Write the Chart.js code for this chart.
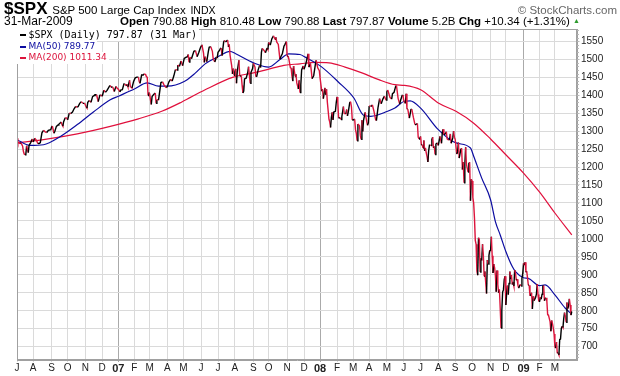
<!DOCTYPE html>
<html>
<head>
<meta charset="utf-8">
<title>$SPX</title>
<script src="https://cdn.jsdelivr.net/npm/chart.js@4.4.1/dist/chart.umd.min.js"></script>
<style>
  body { margin: 0; background: #fff; }
  #wrap { position: relative; width: 620px; height: 376px; overflow: hidden; font-family: Arial, "Liberation Sans", sans-serif; color: #000; }
  #graph { position: absolute; left: 0; top: 0; }
  .txt { position: absolute; white-space: nowrap; }
  #title { left: 4px; top: -1px; font-size: 17px; line-height: 20px; }
  #title .nm { font-size: 11.5px; }
  #title .ex { font-size: 10.5px; }
  #brand { right: 3px; top: 3px; font-size: 11.5px; line-height: 14px; color: #666; }
  #date { left: 4px; top: 14px; font-size: 12px; line-height: 14px; }
  #ohlc { left: 120px; top: 14px; font-size: 11.5px; line-height: 14px; }
  #ohlc .up { color: #2c9a2c; font-size: 7px; vertical-align: 2px; }
  .lg { position: absolute; left: 17px; background: #fff; white-space: nowrap; padding-right: 2px; height: 11.5px; }
  .lg i { position: absolute; left: 3px; top: 5px; width: 6px; height: 2px; }
  .lg span { display: block; padding-left: 11.5px; line-height: 11.5px; }
  #lg1 { top: 29px; font: 10px "DejaVu Sans Mono", monospace; }
  #lg2 { top: 40.5px; font: 9px "DejaVu Sans", sans-serif; color: #0c0ca0; }
  #lg3 { top: 52px; font: 9px "DejaVu Sans", sans-serif; color: #dc143c; }
</style>
</head>
<body>
<div id="wrap">
  <canvas id="graph" width="620" height="376"></canvas>
  <div class="txt" id="title"><b>$SPX</b> <span class="nm">S&amp;P 500 Large Cap Index</span> <span class="ex">INDX</span></div>
  <div class="txt" id="brand">© StockCharts.com</div>
  <div class="txt" id="date">31-Mar-2009</div>
  <div class="txt" id="ohlc"><b>Open</b> 790.88 <b>High</b> 810.48 <b>Low</b> 790.88 <b>Last</b> 797.87 <b>Volume</b> 5.2B <b>Chg</b> +10.34 (+1.31%) <span class="up">▲</span></div>
  <div class="lg" id="lg1"><i style="background:#000"></i><span>$SPX (Daily) 797.87 (31 Mar)</span></div>
  <div class="lg" id="lg2"><i style="background:#0c0ca0"></i><span>MA(50) 789.77</span></div>
  <div class="lg" id="lg3"><i style="background:#dc143c"></i><span>MA(200) 1011.34</span></div>
</div>
<script>
// -------------------------
// DATA (x = trading day since 3 Jul 2006)
// -------------------------
const monthStart = [0,20,43,63,85,106,126,146,165,187,207,229,250,271,294,313,336,357,
  377,398,418,438,460,481,502,524,545,566,589,608,630,650,669];
const monthLabel = ["J","A","S","O","N","D","07","F","M","A","M","J","J","A","S","O","N","D",
  "08","F","M","A","M","J","J","A","S","O","N","D","09","F","M"];
const priceTicks = [700,750,800,850,900,950,1000,1050,1100,1150,1200,1250,1300,1350,1400,1450,1500,1550];

const spxDay = [
  0,1,4,5,7,8,9,10,11,12,13,14,15,17,19,
  20,22,24,26,28,29,31,33,35,37,39,42,
  43,44,46,47,49,51,52,55,56,57,58,60,62,
  63,65,67,69,71,73,75,76,78,80,82,83,84,
  86,87,88,90,92,94,96,97,99,101,103,104,
  106,108,110,112,115,116,117,119,121,123,125,
  126,128,129,131,133,134,136,137,138,140,141,142,143,145,
  147,149,151,152,153,155,157,158,160,161,162,163,164,
  165,166,167,168,170,172,173,174,176,177,179,181,183,185,186,
  187,189,191,193,195,197,199,200,202,204,206,
  208,210,212,213,214,215,217,220,222,224,226,228,
  229,230,232,233,234,236,238,239,241,243,244,246,248,249,
  250,252,253,254,255,257,258,259,260,262,263,264,265,267,268,269,270,
  271,272,273,274,276,277,278,279,280,281,282,283,285,287,288,290,291,293,
  294,296,297,298,300,302,303,304,305,307,309,311,312,
  313,315,317,319,321,322,323,325,327,328,330,332,333,335,
  336,337,338,340,341,342,343,344,346,347,348,350,351,352,353,354,356,
  357,359,361,362,363,365,366,367,369,371,372,374,376,
  377,379,380,381,383,384,385,386,388,389,390,391,392,393,394,396,397,
  398,399,400,402,403,404,406,407,409,410,411,412,414,415,416,417,
  418,420,421,422,423,424,426,427,428,429,430,431,433,435,436,437,
  438,440,441,442,444,446,447,449,451,453,455,457,459,
  460,461,462,464,466,467,469,471,472,474,476,477,479,480,
  481,483,484,485,486,488,490,491,493,495,496,498,499,500,501,
  502,503,504,505,506,507,508,509,510,511,512,513,514,515,516,517,518,519,520,521,523,
  524,526,528,529,530,531,533,534,535,537,538,539,540,542,543,544,
  545,547,548,549,550,552,553,554,555,556,557,558,559,561,562,563,564,565,
  566,567,568,569,570,571,572,573,574,575,576,577,578,579,580,581,582,583,584,585,586,587,588,
  589,590,591,592,593,594,595,596,597,598,599,600,601,602,603,604,605,606,607,
  608,609,610,611,612,613,614,615,616,617,618,619,620,621,622,623,624,625,626,627,628,629,
  630,631,632,633,634,635,636,637,638,639,640,641,642,643,644,645,646,647,648,649,
  650,651,652,653,654,655,656,657,658,659,660,661,662,663,664,665,666,667,668,
  669,670,671,672,673,674,675,676,677,678,679,680,681,682,683,684,685,686,687,688,689,690
];
const spxClose = [
  1280,1270,1265,1267,1258,1243,1236,1234,1236,1259,1249,1240,1260,1268,1278,
  1270,1280,1275,1265,1266,1268,1295,1302,1298,1296,1302,1304,
  1311,1314,1294,1299,1313,1317,1319,1325,1318,1314,1326,1337,1336,
  1331,1350,1349,1353,1362,1369,1366,1368,1377,1382,1377,1377,1378,
  1367,1364,1380,1385,1380,1396,1399,1401,1401,1382,1399,1401,
  1397,1414,1408,1413,1425,1427,1422,1423,1410,1424,1418,
  1417,1409,1414,1415,1431,1431,1426,1430,1423,1441,1423,1422,1420,1438,
  1448,1450,1450,1438,1433,1456,1456,1459,1457,1451,1450,1399,1407,
  1404,1387,1374,1396,1402,1406,1377,1387,1386,1402,1435,1437,1428,1422,1421,
  1424,1437,1444,1439,1453,1471,1470,1484,1480,1495,1482,
  1502,1505,1507,1513,1492,1505,1501,1522,1524,1507,1518,1531,
  1536,1540,1517,1491,1507,1493,1522,1533,1535,1522,1502,1492,1506,1503,
  1519,1525,1530,1531,1510,1547,1552,1549,1549,1553,1534,1541,1511,1482,1459,1474,1455,
  1465,1473,1433,1467,1497,1453,1453,1453,1427,1406,1411,1445,1447,1463,1479,1433,1463,1474,
  1489,1478,1453,1451,1471,1484,1477,1519,1530,1525,1518,1531,1527,
  1547,1539,1557,1565,1555,1561,1548,1541,1500,1506,1515,1536,1540,1549,
  1508,1509,1502,1476,1475,1453,1439,1481,1452,1458,1434,1417,1441,1407,1429,1470,1481,
  1472,1485,1504,1515,1478,1488,1468,1446,1454,1484,1497,1476,1468,
  1447,1411,1416,1390,1420,1401,1416,1380,1333,1325,1310,1338,1352,1331,1353,1355,1378,
  1395,1381,1336,1337,1332,1340,1368,1349,1348,1360,1342,1353,1381,1380,1367,1331,
  1331,1333,1304,1294,1273,1320,1315,1288,1277,1330,1299,1330,1352,1326,1316,1323,
  1370,1369,1370,1373,1355,1332,1329,1365,1390,1376,1389,1397,1386,
  1409,1414,1408,1393,1389,1404,1408,1425,1426,1391,1375,1385,1399,1400,
  1385,1377,1404,1361,1361,1336,1360,1361,1338,1318,1318,1321,1283,1278,1280,
  1285,1261,1262,1253,1274,1245,1253,1239,1229,1214,1245,1261,1261,1260,1277,1283,1253,1257,1235,1264,1267,
  1260,1285,1266,1297,1305,1290,1293,1298,1278,1275,1277,1292,1266,1281,1300,1283,
  1277,1236,1242,1268,1225,1249,1252,1193,1214,1156,1207,1255,1207,1186,1210,1213,1106,1166,
  1161,1115,1099,1057,996,985,910,899,1003,998,908,946,940,985,956,896,909,877,848,941,930,954,969,
  966,1006,953,905,930,920,899,853,912,873,850,859,807,752,800,852,858,887,896,
  816,848,870,845,876,909,888,899,873,880,869,913,905,885,888,871,863,869,873,869,890,903,
  932,927,935,907,910,891,871,871,842,844,850,805,840,828,832,837,846,874,845,826,
  826,838,832,846,869,870,828,834,836,827,789,788,779,770,743,773,764,752,735,
  700,696,713,682,683,677,720,721,751,757,753,778,795,785,768,823,806,813,833,816,788,798
];

const ma50Day = [0,16,33,54,75,95,116,126,146,162,176,187,208,222,234,251,265,272,294,313,
  327,338,352,359,378,399,419,431,440,461,470,482,489,502,524,546,564,568,578,589,
  595,601,608,616,620,630,636,650,657,669,682,690];
const ma50Val = [1276,1260,1262,1285,1318,1353,1387,1397,1417,1434,1425,1425,1438,1462,1487,1508,1522,1515,1490,1478,
  1499,1515,1513,1505,1480,1438,1392,1344,1341,1355,1364,1383,1384,1364,1304,1267,1253,1230,1169,1109,
  1048,1011,965,923,909,892,890,870,872,844,807,790];

const ma200Day = [0,33,75,116,151,180,205,234,269,294,311,332,352,371,388,408,429,450,470,482,
  502,524,546,568,589,608,630,650,669,690];
const ma200Val = [1267,1276,1292,1313,1334,1355,1381,1415,1450,1462,1471,1483,1487,1491,1490,1478,1462,1443,1429,1427,
  1415,1378,1355,1322,1278,1234,1183,1130,1072,1011];

// -------------------------
// STYLE
// -------------------------
const upColor = "#000000";
const downColor = "#dc143c";
const ma50Color = "#0c0ca0";
const ma200Color = "#e0103c";
const gridColor = "#dadada";
const yearGridColor = "#aaaaaa";
const frameColor = "#a0a0a0";
const axisFont = "Arial, 'Liberation Sans', sans-serif";

function pts(days, vals) {
  return days.map((d, i) => ({ x: d, y: vals[i] }));
}

function isYear(i) {
  return monthLabel[i] && monthLabel[i].length === 2;
}

// frame + small ticks on the price axis
const framePlugin = {
  id: "frame",
  afterDraw(chart) {
    const { ctx, chartArea: a } = chart;
    const y = chart.scales.y;
    ctx.save();
    ctx.lineWidth = 1;
    ctx.strokeStyle = "#b8b8b8";
    ctx.beginPath();
    for (let v = Math.ceil(y.min / 10) * 10; v <= y.max; v += 10) {
      const py = Math.round(y.getPixelForValue(v)) + 0.5;
      ctx.moveTo(a.right, py);
      ctx.lineTo(a.right + 2, py);
    }
    ctx.stroke();
    ctx.strokeStyle = frameColor;
    ctx.strokeRect(Math.round(a.left) + 0.5, Math.round(a.top) + 0.5,
      Math.round(a.right - a.left) - 1, Math.round(a.bottom - a.top) - 1);
    ctx.restore();
  }
};

// -------------------------
// CHART
// -------------------------
const ctx = document.getElementById("graph").getContext("2d");

new Chart(ctx, {
  type: "line",
  data: {
    datasets: [
      {
        label: "$SPX",
        data: pts(spxDay, spxClose),
        borderWidth: 1.4,
        borderColor: upColor,
        segment: {
          borderColor: c => c.p1.parsed.y < c.p0.parsed.y ? downColor : upColor
        },
        pointRadius: 0,
        tension: 0
      },
      {
        label: "MA(50)",
        data: pts(ma50Day, ma50Val),
        borderWidth: 1.2,
        borderColor: ma50Color,
        pointRadius: 0,
        cubicInterpolationMode: "monotone"
      },
      {
        label: "MA(200)",
        data: pts(ma200Day, ma200Val),
        borderWidth: 1.2,
        borderColor: ma200Color,
        pointRadius: 0,
        cubicInterpolationMode: "monotone"
      }
    ]
  },
  options: {
    responsive: false,
    animation: false,
    devicePixelRatio: 1,
    layout: { padding: { left: 17, top: 29, right: 0, bottom: 0 } },
    plugins: { legend: { display: false }, tooltip: { enabled: false } },
    scales: {
      x: {
        type: "linear",
        min: 0,
        max: 696.5,
        afterBuildTicks: s => { s.ticks = monthStart.map(v => ({ value: v })); },
        afterFit: s => { s.height = 16; },
        grid: {
          color: c => isYear(c.index) ? yearGridColor : gridColor,
          tickLength: 2
        },
        border: { color: frameColor },
        ticks: {
          autoSkip: false,
          maxRotation: 0,
          padding: 0,
          color: "#222",
          font: c => ({ family: axisFont, size: isYear(c.index) ? 11 : 10, weight: isYear(c.index) ? "bold" : "normal" }),
          callback: (v, i) => monthLabel[i]
        }
      },
      y: {
        position: "right",
        min: 663,
        max: 1584,
        afterBuildTicks: s => { s.ticks = priceTicks.map(v => ({ value: v })); },
        afterFit: s => { s.width = 43; },
        grid: { color: gridColor, tickLength: 3 },
        border: { color: frameColor },
        ticks: {
          padding: 1,
          color: "#222",
          font: { family: axisFont, size: 10 },
          callback: v => String(v)
        }
      }
    }
  },
  plugins: [framePlugin]
});
</script>
</body>
</html>
